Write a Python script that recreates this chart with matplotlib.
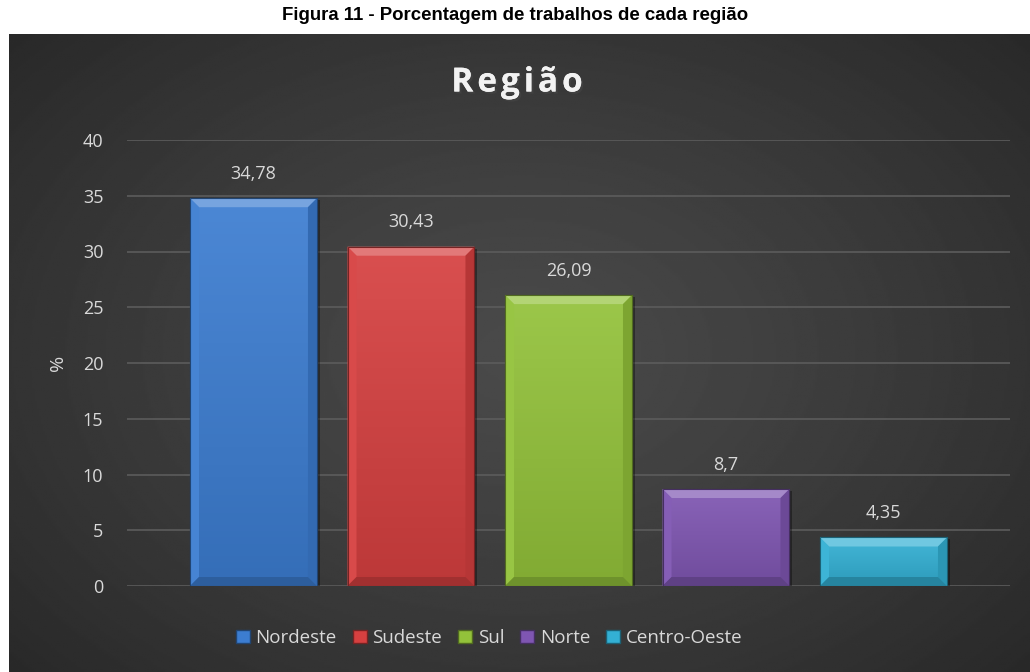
import numpy as np
import matplotlib.pyplot as plt
from matplotlib.patches import Polygon, Patch
from matplotlib.colors import to_rgb
import matplotlib.patheffects as pe

plt.rcParams['font.family'] = ['Open Sans', 'DejaVu Sans']

# dados
regioes = ['Nordeste', 'Sudeste', 'Sul', 'Norte', 'Centro-Oeste']
valores = [34.78, 30.43, 26.09, 8.7, 4.35]
rotulos = ['34,78', '30,43', '26,09', '8,7', '4,35']
cores = ['#3c7dd1', '#d64040', '#93c23a', '#7f56b2', '#33b0d4']
yticks = [0, 5, 10, 15, 20, 25, 30, 35, 40]

txt_cor = '#d9d9d9'


def mix(c, other, f):
    c = np.array(to_rgb(c))
    o = np.array(to_rgb(other))
    return tuple(c * (1 - f) + o * f)


fig = plt.figure(figsize=(10.3, 6.72), dpi=100)
fig.patch.set_facecolor('white')

# fundo escuro com gradiente radial
bg = fig.add_axes([9 / 1030, 0, 1 - 9 / 1030, (672 - 34) / 672])
yy, xx = np.mgrid[-1:1:300j, -1:1:500j]
r = np.sqrt((xx * 1.0) ** 2 + (yy * 0.9) ** 2) / np.sqrt(1 + 0.81)
g = 0.29 - 0.13 * r ** 1.2
bg.imshow(g, cmap='gray', vmin=0, vmax=1, aspect='auto', extent=[0, 1, 0, 1])
bg.set_axis_off()

fig.text(0.5, 1 - 16 / 672, 'Figura 11 - Porcentagem de trabalhos de cada região',
         ha='center', va='center', fontsize=13.4, fontweight='bold',
         family='Liberation Sans', color='black')

ax = fig.add_axes([127 / 1030, 86 / 672, 883 / 1030, 446 / 672])
ax.set_facecolor('none')
x = np.arange(len(regioes))
xlim = (-0.803, len(regioes) - 1 + 0.803)
ylim = (0, 40)

bars = ax.bar(x, valores, width=0.806, color=cores, zorder=2,
              edgecolor=[mix(c, 'black', 0.45) for c in cores], linewidth=0.8)

# pixels por unidade
ppx = 883 / (xlim[1] - xlim[0])
ppy = 446 / (ylim[1] - ylim[0])
bx = 9 / ppx
by = 9 / ppy

for b, c in zip(bars, cores):
    x0 = b.get_x()
    w = b.get_width()
    h = b.get_height()
    x1 = x0 + w
    # sombra
    ax.add_patch(Polygon([(x0 + 2 / ppx, -3 / ppy), (x1 + 3 / ppx, -3 / ppy),
                          (x1 + 3 / ppx, h - 2 / ppy), (x0 + 2 / ppx, h - 2 / ppy)],
                         closed=True, facecolor='black', alpha=0.35, lw=0, zorder=1.5))
    # gradiente vertical
    grad = np.linspace(0, 1, 64)[:, None]
    top = np.array(mix(c, 'white', 0.08))
    bot = np.array(mix(c, 'black', 0.12))
    img = top[None, None, :] * (1 - grad[..., None]) + bot[None, None, :] * grad[..., None]
    im = ax.imshow(img, extent=[x0, x1, 0, h], aspect='auto', zorder=2.1)
    im.set_clip_path(b)
    # chanfro
    ax.add_patch(Polygon([(x0, h), (x1, h), (x1 - bx, h - by), (x0 + bx, h - by)],
                         facecolor=mix(c, 'white', 0.3), lw=0, zorder=2.2))
    ax.add_patch(Polygon([(x0, 0), (x0, h), (x0 + bx, h - by), (x0 + bx, by)],
                         facecolor=mix(c, 'white', 0.05), lw=0, zorder=2.2))
    ax.add_patch(Polygon([(x1, 0), (x1, h), (x1 - bx, h - by), (x1 - bx, by)],
                         facecolor=mix(c, 'black', 0.15), lw=0, zorder=2.2))
    ax.add_patch(Polygon([(x0, 0), (x1, 0), (x1 - bx, by), (x0 + bx, by)],
                         facecolor=mix(c, 'black', 0.25), lw=0, zorder=2.2))
    ax.add_patch(Polygon([(x0, 0), (x1, 0), (x1, h), (x0, h)], fill=False,
                         edgecolor=mix(c, 'black', 0.45), lw=0.8, zorder=2.3))

for xi, v, lab in zip(x, valores, rotulos):
    ax.annotate(lab, (xi, v), xytext=(0, 11), textcoords='offset points',
                ha='center', va='bottom', fontsize=13, color=txt_cor)

ax.set_xlim(xlim)
ax.set_ylim(ylim)
ax.set_yticks(yticks)
ax.set_yticklabels([str(t) for t in yticks])
ax.set_xticks([])
ax.tick_params(axis='y', length=0, pad=17, labelsize=13, labelcolor=txt_cor)
ax.yaxis.grid(True, color='#5c5c5c', linewidth=1.2, zorder=0)
ax.set_axisbelow(True)
for s in ax.spines.values():
    s.set_visible(False)
ax.set_ylabel('%', fontsize=14, color=txt_cor)
ax.yaxis.set_label_coords(-0.068, 0.5)

# titulo interno com espacamento entre letras
fig.canvas.draw()
rend = fig.canvas.get_renderer()
titulo = 'Região'
esp = 4
tam = 24
larg = []
for ch in titulo:
    t = fig.text(0, 0, ch, fontsize=tam, fontweight='bold')
    larg.append(t.get_window_extent(rend).width)
    t.remove()
total = sum(larg) + esp * (len(titulo) - 1)
xp = 517 - total / 2
for ch, lw in zip(titulo, larg):
    fig.text(xp / 1030, 1 - 83 / 672, ch, fontsize=tam, fontweight='bold',
             color='#f2f2f2', va='center', ha='left',
             path_effects=[pe.withSimplePatchShadow(offset=(1.5, -1.5), alpha=0.5),
                           pe.Normal()])
    xp += lw + esp

handles = [Patch(facecolor=c, edgecolor=mix(c, 'black', 0.45), label=n)
           for c, n in zip(cores, regioes)]
leg = fig.legend(handles=handles, loc='center', bbox_to_anchor=(489 / 1030, 1 - 638 / 672),
                 ncol=5, frameon=False, fontsize=13.5, handlelength=0.75, handleheight=0.75,
                 handletextpad=0.3, columnspacing=0.85, labelcolor=txt_cor)

fig.savefig('out.png', dpi=100)
